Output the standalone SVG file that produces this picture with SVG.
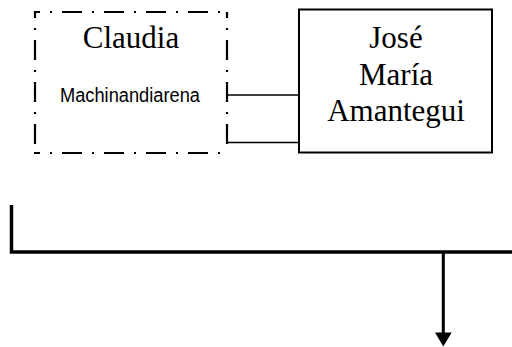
<svg xmlns="http://www.w3.org/2000/svg" width="512" height="347" viewBox="0 0 512 347">
<style>
.serif{font-family:"Liberation Serif","Times New Roman",serif;font-size:31px;fill:#000;text-anchor:middle}
.sans{font-family:"Liberation Sans",Arial,sans-serif;font-size:19.5px;fill:#000;text-anchor:middle}
.line{stroke:#000;fill:none}
.dd{stroke:#000;fill:none;stroke-width:2.2;stroke-dasharray:20 10 2 10;stroke-dashoffset:14}
</style>
<g id="claudia">
<rect x="35" y="12" width="192" height="141" fill="#fff"/>
<path class="dd" d="M34,12 H227"/>
<path class="dd" d="M227,12 V153"/>
<path class="dd" d="M34,153 H227"/>
<path class="dd" d="M35,12 V153"/>
<text class="serif" x="131" y="48">Claudia</text>
<text class="sans" x="130" y="102" textLength="140" lengthAdjust="spacingAndGlyphs">Machinandiarena</text>
</g>
<g id="jose">
<rect x="299" y="9.5" width="193" height="143" fill="#fff" stroke="#000" stroke-width="2"/>
<text class="serif" x="396" y="48">José</text>
<text class="serif" x="396" y="85">María</text>
<text class="serif" x="396" y="121">Amantegui</text>
</g>
<g id="connectors">
<line class="line" x1="227" y1="95" x2="299" y2="95" stroke-width="1.5"/>
<line class="line" x1="227" y1="142.5" x2="299" y2="142.5" stroke-width="1.5"/>
<polyline class="line" points="11.5,205 11.5,252 512,252" stroke-width="3.5"/>
<line class="line" x1="443.3" y1="252" x2="443.3" y2="334" stroke-width="3"/>
<polygon points="435,332.5 451.7,332.5 443.3,346.5" fill="#000"/>
</g>
</svg>
